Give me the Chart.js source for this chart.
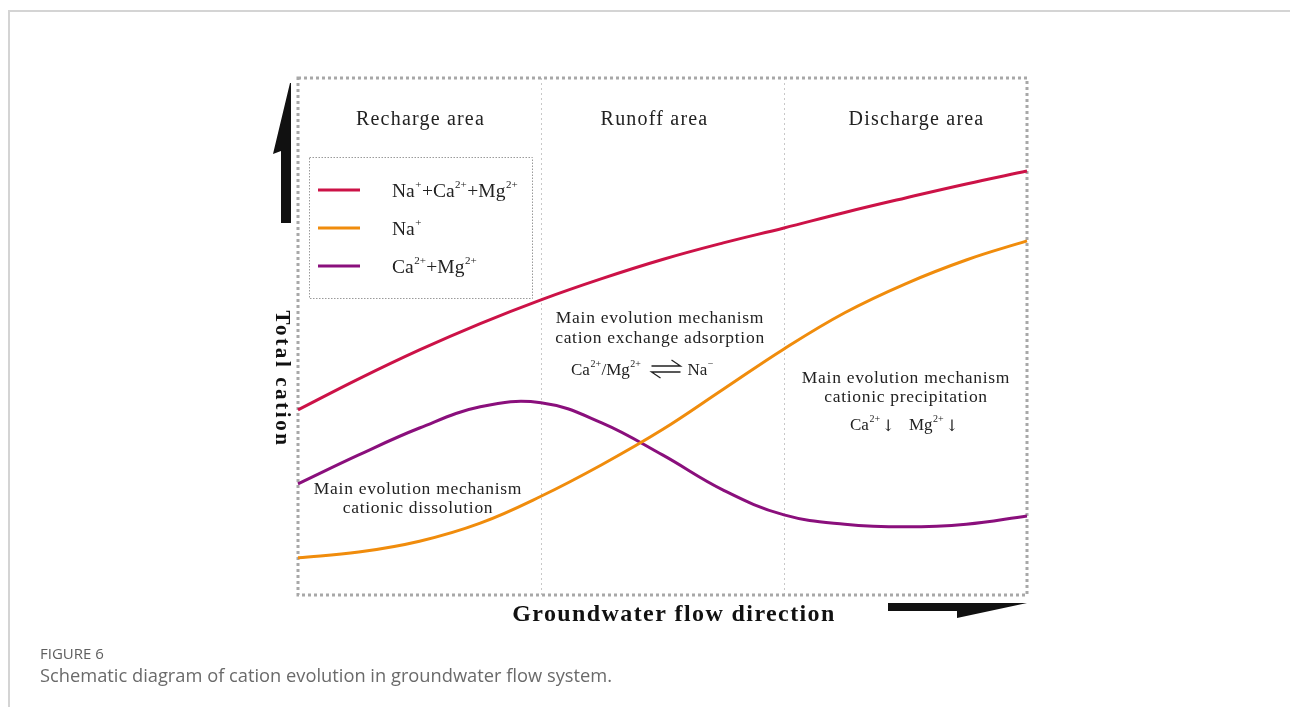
<!DOCTYPE html>
<html>
<head>
<meta charset="utf-8">
<script src="https://cdn.jsdelivr.net/npm/chart.js@4.4.1/dist/chart.umd.min.js"></script>
<style>
html,body{margin:0;padding:0;background:#fff;}
#wrap{position:relative;width:1290px;height:707px;}
canvas{display:block;}
</style>
</head>
<body>
<div id="wrap"><canvas id="c" width="1290" height="707"></canvas></div>
<script>
// ---- data (schematic; x = flow distance 0..30, y = relative cation level 0..100)
const xValues     = [0, 2.5, 5, 7.5, 10, 12.5, 15, 17.5, 20, 22.5, 25, 27.5, 30];
const totalCation = [35.8, 41.8, 47.4, 52.5, 57.1, 61.2, 64.9, 68.1, 71.0, 74.0, 76.8, 79.5, 82.0];
const sodium      = [7.2, 8.3, 10.4, 13.9, 19.1, 25.2, 32.0, 39.8, 47.6, 54.6, 60.2, 64.8, 68.5];
const calcMag     = [21.5, 27.1, 32.3, 36.4, 37.2, 33.3, 27.1, 20.3, 15.5, 13.7, 13.2, 13.7, 15.3];
const zoneBounds  = [10, 20];
const zoneNames   = ['Recharge area', 'Runoff area', 'Discharge area'];
const seriesNames = [
  [{t:'Na'},{t:'+',s:1},{t:'+Ca'},{t:'2+',s:1},{t:'+Mg'},{t:'2+',s:1}],
  [{t:'Na'},{t:'+',s:1}],
  [{t:'Ca'},{t:'2+',s:1},{t:'+Mg'},{t:'2+',s:1}]
];
const colors = ['#cc1247', '#f08c0c', '#8a0f7c'];

const SERIF = '"Liberation Serif", "DejaVu Serif", serif';

function pts(arr){ return xValues.map((x,i)=>({x:x, y:arr[i]})); }

function richWidth(ctx, parts, size){
  let w = 0;
  for (const p of parts){
    ctx.font = (p.s ? Math.round(size*0.58) : size) + 'px ' + SERIF;
    w += ctx.measureText(p.t).width + (p.s ? 1 : 0);
  }
  return w;
}
function drawRich(ctx, parts, x, y, size, align){
  let w = richWidth(ctx, parts, size);
  let cx = align === 'center' ? x - w/2 : x;
  ctx.textBaseline = 'alphabetic';
  ctx.textAlign = 'left';
  for (const p of parts){
    if (p.s){
      ctx.font = Math.round(size*0.58) + 'px ' + SERIF;
      ctx.fillText(p.t, cx + 0.5, y - size*0.45);
      cx += ctx.measureText(p.t).width + 1;
    } else {
      ctx.font = size + 'px ' + SERIF;
      ctx.fillText(p.t, cx, y);
      cx += ctx.measureText(p.t).width;
    }
  }
  return cx;
}

const decor = {
  id: 'decor',
  beforeDatasetsDraw(chart){
    const ctx = chart.ctx, a = chart.chartArea, xs = chart.scales.x;
    ctx.save();
    // page frame
    ctx.strokeStyle = '#d4d4d4'; ctx.lineWidth = 2;
    ctx.beginPath(); ctx.moveTo(9, 707); ctx.lineTo(9, 11); ctx.lineTo(1290, 11); ctx.stroke();
    // zone dividers
    ctx.strokeStyle = '#c8c8c8'; ctx.lineWidth = 1; ctx.setLineDash([2,3]);
    for (const b of zoneBounds){
      const px = Math.round(xs.getPixelForValue(b)) + 0.5;
      ctx.beginPath(); ctx.moveTo(px, a.top); ctx.lineTo(px, a.bottom); ctx.stroke();
    }
    // plot frame (square dots)
    ctx.strokeStyle = '#a8a8a8'; ctx.lineWidth = 3; ctx.setLineDash([3,3]);
    ctx.strokeRect(a.left, a.top, a.right - a.left, a.bottom - a.top);
    ctx.setLineDash([]);
    // zone titles
    ctx.fillStyle = '#222';
    ctx.font = '20px ' + SERIF;
    ctx.textAlign = 'center'; ctx.textBaseline = 'middle';
    ctx.letterSpacing = '1.2px';
    const edges = [xs.min].concat(zoneBounds).concat([xs.max]);
    for (let i = 0; i < 3; i++){
      const cx = (xs.getPixelForValue(edges[i]) + xs.getPixelForValue(edges[i+1]))/2;
      ctx.fillText(zoneNames[i], cx + [1, -8, 11][i], 120);
    }
    ctx.letterSpacing = '0px';
    // annotations
    ctx.fillStyle = '#222';
    ctx.font = '17.5px ' + SERIF;
    ctx.letterSpacing = '0.7px';
    ctx.textAlign = 'center'; ctx.textBaseline = 'middle';
    ctx.fillText('Main evolution mechanism', 660, 318);
    ctx.fillText('cation exchange adsorption', 660, 338);
    ctx.fillText('Main evolution mechanism', 906, 378);
    ctx.fillText('cationic precipitation', 906, 397);
    ctx.fillText('Main evolution mechanism', 418, 489);
    ctx.fillText('cationic dissolution', 418, 508);
    ctx.letterSpacing = '0px';
    // Ca2+/Mg2+ <=> Na-
    let ex = drawRich(ctx, [{t:'Ca'},{t:'2+',s:1},{t:'/Mg'},{t:'2+',s:1}], 571, 375, 17, 'left');
    ctx.strokeStyle = '#222'; ctx.lineWidth = 1.3;
    const hx0 = ex + 10, hx1 = ex + 39;
    ctx.beginPath();
    ctx.moveTo(hx0, 366); ctx.lineTo(hx1, 366); ctx.lineTo(hx1 - 9, 360);
    ctx.moveTo(hx1, 372); ctx.lineTo(hx0, 372); ctx.lineTo(hx0 + 9, 378);
    ctx.stroke();
    drawRich(ctx, [{t:'Na'},{t:'\u2212',s:1}], hx1 + 7, 375, 17, 'left');
    // Ca2+↓  Mg2+↓
    let e2 = drawRich(ctx, [{t:'Ca'},{t:'2+',s:1}], 850, 430, 17, 'left');
    ctx.font = '16px "DejaVu Serif", serif';
    ctx.textAlign = 'left'; ctx.textBaseline = 'alphabetic';
    ctx.fillText('\u2193', e2 + 1, 431);
    let e3 = drawRich(ctx, [{t:'Mg'},{t:'2+',s:1}], 909, 430, 17, 'left');
    ctx.font = '16px "DejaVu Serif", serif';
    ctx.fillText('\u2193', e3 + 1, 431);
    // legend box
    ctx.strokeStyle = '#9a9a9a'; ctx.lineWidth = 1; ctx.setLineDash([1.5,1.5]);
    ctx.strokeRect(309.5, 157.5, 223, 141);
    ctx.setLineDash([]);
    const ly = [190, 228, 266];
    for (let i = 0; i < 3; i++){
      ctx.strokeStyle = colors[i]; ctx.lineWidth = 3;
      ctx.beginPath(); ctx.moveTo(318, ly[i]); ctx.lineTo(360, ly[i]); ctx.stroke();
      ctx.fillStyle = '#222';
      drawRich(ctx, seriesNames[i], 392, ly[i] + 7, 19.5, 'left');
    }
    // axis arrows
    ctx.fillStyle = '#111';
    ctx.beginPath();
    ctx.moveTo(290, 83); ctx.lineTo(273, 154); ctx.lineTo(281, 151);
    ctx.lineTo(281, 223); ctx.lineTo(291, 223); ctx.lineTo(291, 83); ctx.closePath(); ctx.fill();
    ctx.beginPath();
    ctx.moveTo(888, 603); ctx.lineTo(1027, 603); ctx.lineTo(957, 618);
    ctx.lineTo(957, 611); ctx.lineTo(888, 611); ctx.closePath(); ctx.fill();
    // axis titles
    ctx.fillStyle = '#111';
    ctx.font = 'bold 24px ' + SERIF;
    ctx.letterSpacing = '1.4px';
    ctx.textAlign = 'center'; ctx.textBaseline = 'middle';
    ctx.fillText('Groundwater flow direction', 674, 615);
    ctx.save();
    ctx.translate(281, 379); ctx.rotate(Math.PI/2);
    ctx.font = 'bold 21px ' + SERIF;
    ctx.letterSpacing = '2.6px';
    ctx.fillText('Total cation', 0, 0);
    ctx.restore();
    ctx.letterSpacing = '0px';
    // caption
    ctx.textAlign = 'left'; ctx.textBaseline = 'alphabetic';
    ctx.fillStyle = '#5f5f5f';
    ctx.font = '15px "Open Sans", sans-serif';
    ctx.fillText('FIGURE 6', 40, 659);
    ctx.fillStyle = '#6a6a6a';
    ctx.font = '18.3px "Open Sans", sans-serif';
    ctx.fillText('Schematic diagram of cation evolution in groundwater flow system.', 40, 682);
    ctx.restore();
  }
};

new Chart(document.getElementById('c'), {
  type: 'line',
  data: {
    datasets: [
      {label: 'Na+ + Ca2+ + Mg2+', data: pts(totalCation), borderColor: colors[0]},
      {label: 'Na+', data: pts(sodium), borderColor: colors[1]},
      {label: 'Ca2+ + Mg2+', data: pts(calcMag), borderColor: colors[2]}
    ]
  },
  options: {
    responsive: false,
    animation: false,
    devicePixelRatio: 1,
    layout: {padding: {left: 298, top: 78, right: 263, bottom: 112}},
    elements: {
      line: {borderWidth: 3, tension: 0.4, fill: false, capBezierPoints: true},
      point: {radius: 0, hoverRadius: 0}
    },
    scales: {
      x: {type: 'linear', min: 0, max: 30, display: false},
      y: {type: 'linear', min: 0, max: 100, display: false}
    },
    plugins: {legend: {display: false}, tooltip: {enabled: false}},
    clip: false
  },
  plugins: [decor]
});
</script>
</body>
</html>
